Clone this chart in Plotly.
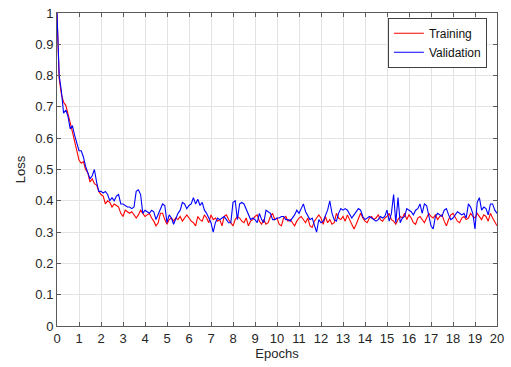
import plotly.graph_objects as go

epochs = [i / 10 for i in range(201)]

training_loss = [
    1.00, 0.79, 0.74, 0.715, 0.705, 0.68, 0.65, 0.62, 0.59, 0.56,
    0.53, 0.52, 0.525, 0.50, 0.49, 0.46, 0.47, 0.455, 0.45, 0.43,
    0.42, 0.415, 0.39, 0.40, 0.395, 0.38, 0.39, 0.385, 0.38, 0.36,
    0.35, 0.37, 0.365, 0.36, 0.365, 0.355, 0.345, 0.355, 0.37, 0.36,
    0.35, 0.355, 0.36, 0.345, 0.335, 0.32, 0.33, 0.36, 0.36, 0.34,
    0.325, 0.34, 0.345, 0.335, 0.345, 0.34, 0.35, 0.335, 0.345, 0.355,
    0.345, 0.335, 0.33, 0.32, 0.35, 0.34, 0.335, 0.355, 0.345, 0.33,
    0.355, 0.34, 0.345, 0.335, 0.34, 0.32, 0.35, 0.355, 0.34, 0.33,
    0.32, 0.34, 0.35, 0.345, 0.335, 0.33, 0.345, 0.32, 0.335, 0.34,
    0.35, 0.355, 0.335, 0.325, 0.34, 0.325, 0.33, 0.35, 0.36, 0.34,
    0.345, 0.325, 0.32, 0.345, 0.35, 0.335, 0.34, 0.33, 0.32, 0.335,
    0.345, 0.35, 0.34, 0.33, 0.345, 0.32, 0.315, 0.335, 0.345, 0.355,
    0.345, 0.325, 0.35, 0.33, 0.34, 0.325, 0.33, 0.36, 0.345, 0.34,
    0.35, 0.335, 0.355, 0.34, 0.33, 0.31, 0.325, 0.345, 0.36, 0.345,
    0.335, 0.33, 0.345, 0.35, 0.34, 0.345, 0.355, 0.34, 0.335, 0.345,
    0.35, 0.36, 0.34, 0.335, 0.325, 0.34, 0.35, 0.345, 0.36, 0.34,
    0.355, 0.345, 0.33, 0.325, 0.345, 0.35, 0.34, 0.33, 0.345, 0.36,
    0.35, 0.345, 0.355, 0.34, 0.35, 0.355, 0.335, 0.32, 0.34, 0.355,
    0.36, 0.345, 0.335, 0.33, 0.345, 0.35, 0.34, 0.345, 0.36, 0.35,
    0.345, 0.36, 0.35, 0.34, 0.355, 0.35, 0.335, 0.36, 0.345, 0.33,
    0.32,
]

validation_loss = [
    1.00, 0.80, 0.75, 0.68, 0.69, 0.67, 0.63, 0.64, 0.61, 0.58,
    0.56, 0.56, 0.54, 0.51, 0.49, 0.47, 0.48, 0.50, 0.46, 0.43,
    0.43, 0.425, 0.43, 0.42, 0.40, 0.41, 0.40, 0.415, 0.42, 0.39,
    0.39, 0.385, 0.38, 0.38, 0.375, 0.38, 0.43, 0.435, 0.42, 0.36,
    0.37, 0.365, 0.36, 0.37, 0.365, 0.34, 0.355, 0.37, 0.39, 0.385,
    0.33, 0.355, 0.345, 0.325, 0.345, 0.36, 0.37, 0.395, 0.39, 0.375,
    0.385, 0.39, 0.41, 0.39, 0.405, 0.385, 0.395, 0.37, 0.36, 0.345,
    0.33, 0.30, 0.33, 0.345, 0.34, 0.345, 0.35, 0.34, 0.33, 0.33,
    0.395, 0.40, 0.34, 0.39, 0.395, 0.39, 0.375, 0.36, 0.34, 0.345,
    0.34, 0.33, 0.36, 0.34, 0.33, 0.37, 0.365, 0.36, 0.34, 0.34,
    0.345, 0.345, 0.35, 0.35, 0.34, 0.34, 0.335, 0.345, 0.355, 0.37,
    0.36, 0.375, 0.39, 0.365, 0.35, 0.34, 0.345, 0.32, 0.30, 0.34,
    0.33, 0.335, 0.35, 0.37, 0.40, 0.36, 0.34, 0.335, 0.36, 0.375,
    0.37, 0.375, 0.37, 0.355, 0.345, 0.355, 0.365, 0.375, 0.37, 0.35,
    0.34, 0.345, 0.35, 0.345, 0.34, 0.335, 0.34, 0.35, 0.345, 0.35,
    0.37, 0.335, 0.36, 0.42, 0.33, 0.41, 0.33, 0.345, 0.35, 0.375,
    0.37, 0.365, 0.355, 0.37, 0.375, 0.39, 0.36, 0.39, 0.385, 0.35,
    0.32, 0.31, 0.35, 0.36, 0.355, 0.35, 0.37, 0.375, 0.355, 0.34,
    0.345, 0.355, 0.365, 0.36, 0.355, 0.36, 0.345, 0.39, 0.38, 0.36,
    0.31, 0.395, 0.41, 0.37, 0.38, 0.375, 0.355, 0.39, 0.39, 0.37,
    0.36,
]

x_ticks = list(range(0, 21))
y_ticks = [i / 10 for i in range(11)]
y_tick_text = ["0", "0.1", "0.2", "0.3", "0.4", "0.5", "0.6", "0.7", "0.8", "0.9", "1"]

fig = go.Figure()
fig.add_trace(go.Scatter(x=epochs, y=training_loss, mode="lines", name="Training",
                         line=dict(color="#ff0000", width=1.1)))
fig.add_trace(go.Scatter(x=epochs, y=validation_loss, mode="lines", name="Validation",
                         line=dict(color="#0000ff", width=1.1)))

axis_common = dict(
    showline=True, linecolor="#5a5a5a", linewidth=1, mirror="ticks",
    ticks="inside", ticklen=4, tickcolor="#5a5a5a", tickwidth=1,
    showgrid=True, gridcolor="#e3e3e3", gridwidth=1, zeroline=False,
    automargin=False,
    tickfont=dict(family="Liberation Sans, Arial, sans-serif", size=13, color="#262626"),
)

fig.update_layout(
    width=511, height=367, autosize=False,
    margin=dict(l=57, r=14, t=13, b=41),
    paper_bgcolor="white", plot_bgcolor="white",
    font=dict(family="Liberation Sans, Arial, sans-serif", size=13, color="#262626"),
    xaxis=dict(range=[0, 20], tickvals=x_ticks, ticktext=[str(t) for t in x_ticks],
               title=dict(text="Epochs", standoff=2, font=dict(size=13)), **axis_common),
    yaxis=dict(range=[0, 1], tickvals=y_ticks, ticktext=y_tick_text,
               title=dict(text="Loss", standoff=6, font=dict(size=13)), **axis_common),
    legend=dict(x=0.977, y=0.985, xanchor="right", yanchor="top",
                bgcolor="white", bordercolor="#404040", borderwidth=1,
                font=dict(size=12, color="#111111"), tracegroupgap=0),
    showlegend=True,
)

fig.write_html("out.html")
